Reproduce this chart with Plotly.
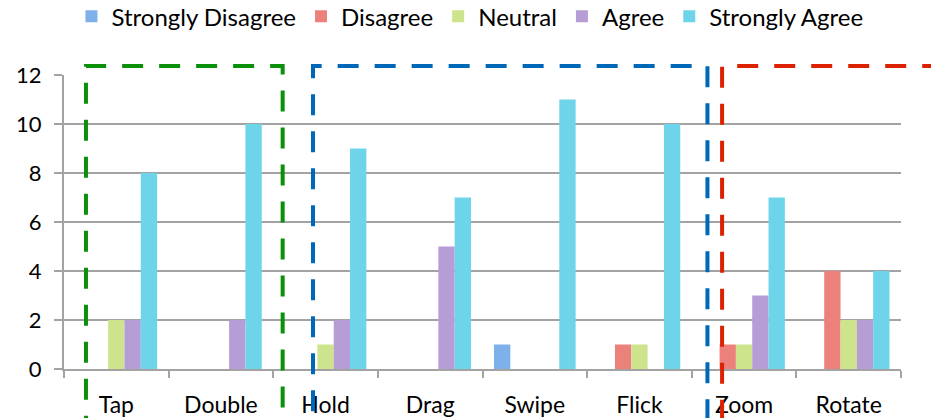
import plotly.graph_objects as go

# Survey responses per gesture
gestures = ["Tap", "Double", "Hold", "Drag", "Swipe", "Flick", "Zoom", "Rotate"]
strongly_disagree = [0, 0, 0, 0, 1, 0, 0, 0]
disagree = [0, 0, 0, 0, 0, 1, 1, 4]
neutral = [2, 0, 1, 0, 0, 1, 1, 2]
agree = [2, 2, 2, 5, 0, 0, 3, 2]
strongly_agree = [8, 10, 9, 7, 11, 10, 7, 4]

y_ticks = [0, 2, 4, 6, 8, 10, 12]

series = [
    ("Strongly Disagree", strongly_disagree, "#7eb0ea"),
    ("Disagree", disagree, "#ec807a"),
    ("Neutral", neutral, "#cde38c"),
    ("Agree", agree, "#b69dd6"),
    ("Strongly Agree", strongly_agree, "#6dd4ea"),
]

FONT = "Lato, Carlito, Calibri, sans-serif"
GRID = "#a3a3a3"

fig = go.Figure()
for name, values, color in series:
    fig.add_trace(go.Bar(
        name=name,
        x=gestures,
        y=values,
        marker=dict(color=color, line=dict(width=0)),
    ))

# Dashed group boxes, given in category-index units (x) and value units (y)
n_cat = len(gestures)
y_max = 12


def px(xi):
    return (xi + 0.5) / n_cat


def py(v):
    return v / y_max


boxes = [
    (-0.29, 1.59, "#0a900a"),   # Tap, Double
    (1.88, 5.65, "#0068b8"),    # Hold .. Flick
    (5.79, 8.10, "#dc2000"),    # Zoom, Rotate
]
shapes = []
for x0, x1, color in boxes:
    shapes.append(dict(
        type="rect", xref="paper", yref="paper",
        x0=px(x0), x1=px(x1), y0=py(-2.6), y1=py(12.37),
        line=dict(color=color, width=4, dash="21px,16px"),
        fillcolor="rgba(0,0,0,0)", layer="above",
    ))

fig.update_layout(
    width=931, height=418,
    margin=dict(l=64, r=30, t=75, b=49, autoexpand=False),
    paper_bgcolor="white", plot_bgcolor="white",
    font=dict(family=FONT, size=22, color="#000000"),
    barmode="group", bargap=0.22, bargroupgap=0,
    showlegend=True,
    legend=dict(
        orientation="h", xref="paper", yref="paper",
        x=0.485, xanchor="center", y=py(15.3), yanchor="top",
        font=dict(family=FONT, size=24, color="#000000"),
        itemwidth=30, tracegroupgap=0,
    ),
    shapes=shapes,
    xaxis=dict(
        type="category", automargin=False,
        showline=True, linecolor=GRID, linewidth=2,
        ticks="outside", tickson="boundaries", ticklen=7,
        tickcolor=GRID, tickwidth=2,
        showgrid=False, ticklabelstandoff=14,
        tickfont=dict(family=FONT, size=23, color="#000000"),
    ),
    yaxis=dict(
        range=[0, 12], tickvals=y_ticks, automargin=False,
        showline=True, linecolor=GRID, linewidth=2,
        ticks="outside", ticklen=8, tickcolor=GRID, tickwidth=2,
        showgrid=True, gridcolor=GRID, gridwidth=2,
        zeroline=False, ticklabelstandoff=8,
        tickfont=dict(family=FONT, size=22, color="#000000"),
    ),
)

fig.write_html("out.html")
